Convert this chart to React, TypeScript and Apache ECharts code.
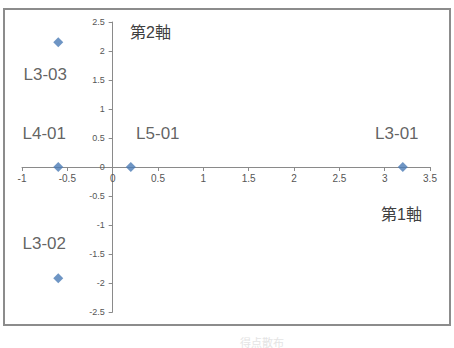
import React, { useEffect, useRef } from "react";
import * as echarts from "echarts";

const pointNames = ["L3-03", "L4-01", "L5-01", "L3-01", "L3-02"];
const axis1Values = [-0.6, -0.6, 0.2, 3.2, -0.6];
const axis2Values = [2.15, 0, 0, 0, -1.92];
const xAxisName = "第1軸";
const yAxisName = "第2軸";
const caption = "得点散布";

const labelOffsets: Record<string, [number, number]> = {
  "L3-03": [-13, 32],
  "L4-01": [-14, -34],
  "L5-01": [27, -34],
  "L3-01": [-6, -34],
  "L3-02": [-14, -35],
};

export default function App() {
  const ref = useRef<HTMLDivElement>(null);
  useEffect(() => {
    if (!ref.current) return;
    const chart = echarts.init(ref.current, null, { renderer: "svg" });
    const font = "'Liberation Sans', Arial, 'Noto Sans CJK JP', sans-serif";
    const gridLeft = 22, gridRight = 24, gridTop = 22, gridBottom = 36;
    const w = 454 - gridLeft - gridRight;
    const h = 348 - gridTop - gridBottom;
    // pixel offsets so the axes sit at the zero crossing
    const xOffset = -(h * (0 - -2.5) / 5);
    const yOffset = -(w * (0 - -1) / 4.5);
    chart.setOption({
      animation: false,
      backgroundColor: "#ffffff",
      textStyle: { fontFamily: font },
      grid: { left: gridLeft, right: gridRight, top: gridTop, bottom: gridBottom, containLabel: false },
      xAxis: {
        type: "value",
        min: -1,
        max: 3.5,
        interval: 0.5,
        position: "bottom",
        offset: xOffset,
        splitLine: { show: false },
        axisLine: { show: true, onZero: false, lineStyle: { color: "#8a8a8a", width: 1 } },
        axisTick: { show: true, length: 4, lineStyle: { color: "#8a8a8a" } },
        axisLabel: { color: "#555", fontSize: 10, margin: 6, fontFamily: font, hideOverlap: false },
      },
      yAxis: {
        type: "value",
        min: -2.5,
        max: 2.5,
        interval: 0.5,
        position: "left",
        offset: yOffset,
        splitLine: { show: false },
        axisLine: { show: true, onZero: false, lineStyle: { color: "#8a8a8a", width: 1 } },
        axisTick: { show: true, length: 4, lineStyle: { color: "#8a8a8a" } },
        axisLabel: { color: "#555", fontSize: 9, margin: 8, fontFamily: font, hideOverlap: false },
      },
      graphic: [
        {
          type: "rect",
          shape: { x: 4, y: 9, width: 446, height: 316 },
          style: { fill: "none", stroke: "#8c8c8c", lineWidth: 2 },
          silent: true,
        },
        {
          type: "text",
          x: 130,
          y: 24,
          style: { text: yAxisName, fontSize: 16, fill: "#404040", fontFamily: font },
        },
        {
          type: "text",
          x: 381,
          y: 206,
          style: { text: xAxisName, fontSize: 16, fill: "#404040", fontFamily: font },
        },
        {
          type: "text",
          x: 262,
          y: 337,
          style: { text: caption, fontSize: 11, fill: "#e4e4e4", align: "center", fontFamily: font },
        },
      ],
      series: [
        {
          type: "scatter",
          symbol: "diamond",
          symbolSize: 10,
          itemStyle: { color: "#4a7bb5" },
          data: pointNames.map((n, i) => ({
            name: n,
            value: [axis1Values[i], axis2Values[i]],
            label: {
              show: true,
              formatter: n,
              position: "inside",
              offset: labelOffsets[n],
              fontSize: 17,
              color: "#3a3a3a",
              fontFamily: font,
            },
          })),
        },
      ],
    });
    return () => chart.dispose();
  }, []);
  return <div ref={ref} style={{ width: 454, height: 348, position: "absolute", left: 0, top: 0 }} />;
}
